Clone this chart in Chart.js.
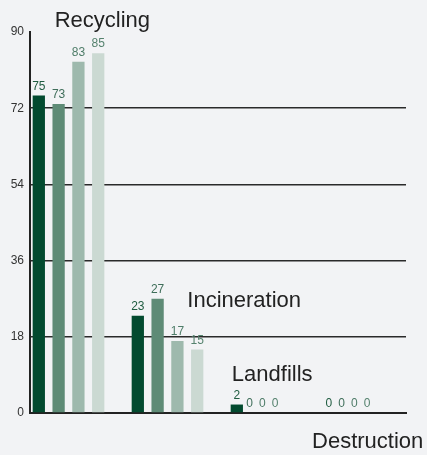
<!DOCTYPE html>
<html>
<head>
<meta charset="utf-8">
<script src="https://cdn.jsdelivr.net/npm/chart.js@4/dist/chart.umd.min.js"></script>
<style>
  html, body { margin: 0; padding: 0; background: #f2f3f5; }
  #wrap { width: 427px; height: 455px; }
</style>
</head>
<body>
<div id="wrap"><canvas id="chart" width="427" height="455"></canvas></div>
<script>
const categories = ['Recycling', 'Incineration', 'Landfills', 'Destruction'];
const series1 = [75, 23, 2, 0];
const series2 = [73, 27, 0, 0];
const series3 = [83, 17, 0, 0];
const series4 = [85, 15, 0, 0];
const yTicks = [0, 18, 36, 54, 72, 90];

const barColors = ['#024a2f', '#5e8b76', '#9eb9ad', '#cbd9d2'];
const labelColors = ['#1f5c40', '#3f6e5a', '#4f7d69', '#55826e'];

// where each category name sits (x in category units from group centre, y in data units, left aligned)
const nameSpots = [
    { dx: -0.14, y: 91.2 },
    { dx: 0.2, y: 25 },
    { dx: -0.35, y: 7.6 },
    { dx: -0.54, y: -8.2 }
];

const toPoints = arr => arr.map((v, i) => ({ x: i, y: v }));

const valueLabels = {
    id: 'valueLabels',
    afterDatasetsDraw(chart) {
        const ctx = chart.ctx;
        const sets = chart.data.datasets;
        ctx.save();
        ctx.font = '12px "Liberation Sans", Arial, sans-serif';
        ctx.textAlign = 'center';
        ctx.textBaseline = 'bottom';
        categories.forEach((c, i) => {
            // zero labels get packed together from the first empty bar, like the original
            let firstZero = null, k = 0;
            sets.forEach((ds, di) => {
                const bar = chart.getDatasetMeta(di).data[i];
                const v = ds.data[i].y;
                let x = bar.x;
                if (v === 0) {
                    if (firstZero === null) firstZero = bar.x;
                    x = firstZero - 7 + k * 12.8;
                    k++;
                }
                ctx.fillStyle = labelColors[di];
                ctx.fillText(v, x, bar.y - 3);
            });
        });
        ctx.restore();
    }
};

const groupNames = {
    id: 'groupNames',
    afterDraw(chart) {
        const ctx = chart.ctx;
        const xs = chart.scales.x;
        const ys = chart.scales.y;
        ctx.save();
        ctx.font = '22px "Liberation Sans", Arial, sans-serif';
        ctx.fillStyle = '#222';
        ctx.textAlign = 'left';
        ctx.textBaseline = 'alphabetic';
        categories.forEach((name, i) => {
            const s = nameSpots[i];
            ctx.fillText(name, xs.getPixelForValue(i + s.dx), ys.getPixelForValue(s.y));
        });
        ctx.restore();
    }
};

const ctx = document.getElementById('chart').getContext('2d');
const chart = new Chart(ctx, {
    type: 'bar',
    data: {
        datasets: [series1, series2, series3, series4].map((s, i) => ({
            label: 'Series ' + (i + 1),
            data: toPoints(s),
            backgroundColor: barColors[i],
            borderWidth: 0,
            categoryPercentage: 0.8,
            barPercentage: 0.62
        }))
    },
    options: {
        responsive: false,
        animation: false,
        layout: { padding: { top: 32, right: 21, bottom: 34, left: 0 } },
        plugins: {
            legend: { display: false },
            tooltip: { enabled: false }
        },
        scales: {
            x: {
                type: 'linear',
                min: -0.389,
                max: 3.409,
                offset: false,
                afterBuildTicks: scale => { scale.ticks = categories.map((c, i) => ({ value: i })); },
                grid: { display: false, offset: false },
                ticks: { display: false },
                border: { display: true, color: '#222', width: 2 }
            },
            y: {
                min: 0,
                max: 90,
                afterBuildTicks: scale => { scale.ticks = yTicks.map(v => ({ value: v })); },
                afterFit: scale => { scale.width = 30; },
                ticks: {
                    color: '#333',
                    padding: 6,
                    font: { family: '"Liberation Sans", Arial, sans-serif', size: 12 }
                },
                grid: {
                    drawTicks: false,
                    lineWidth: 1.5,
                    color: c => (c.tick && (c.tick.value === 0 || c.tick.value === 90)) ? 'rgba(0,0,0,0)' : '#2a2a2a'
                },
                border: { display: true, color: '#222', width: 2 }
            }
        }
    },
    plugins: [valueLabels, groupNames]
});
</script>
</body>
</html>
